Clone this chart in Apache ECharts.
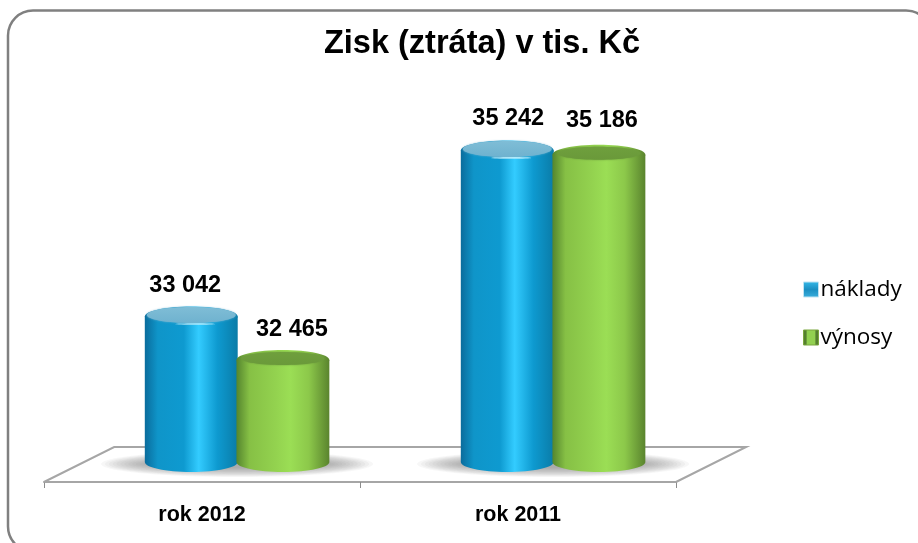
<!DOCTYPE html>
<html>
<head>
<meta charset="utf-8">
<script src="https://cdn.jsdelivr.net/npm/echarts@6/dist/echarts.min.js"></script>
<style>
html,body{margin:0;padding:0;background:#fff}
#chart{width:918px;height:543px}
</style>
</head>
<body>
<div id="chart"></div>
<script>
var categories = ['rok 2012', 'rok 2011']
var naklady = [33042, 35242]
var vynosy = [32465, 35186]

// hand placed labels in the original, shift from the top of the cylinder
var nakladyLabelShift = [[-6, -31], [1, -32]]
var vynosyLabelShift = [[9, -31], [3, -34]]

var blueBody = ['#0a6c9c', '#0f95c9', '#0e9ad0', '#33ccff', '#0e9ad0', '#0a7ca8']
var blueTop = ['#6fb2cf', '#7fbdd6']
var greenBody = ['#55852e', '#86c045', '#93d24f', '#9bde55', '#8cc84a', '#5a842e']
var greenTop = ['#6a993a', '#6f9f3d']

var chart = echarts.init(document.getElementById('chart'))

function fmt(v){
  return String(v).replace(/\B(?=(\d{3})+$)/g, ' ')
}

function hGrad(colors){
  var stops = [0, 0.14, 0.42, 0.58, 0.78, 1]
  return new echarts.graphic.LinearGradient(0, 0, 1, 0, colors.map(function(c, i){
    return {offset: stops[i], color: c}
  }))
}

// cylinder, sitting on the floor of the fake 3d chart
function cylinder(side, bodyColors, topColors, topInset, shine, shifts){
  return function(params, api){
    var band = api.size([1, 0])[0]
    var p = api.coord([api.value(0), api.value(1)])
    var cs = params.coordSys
    var w = band * 0.294
    var rx = w / 2
    var ry = 10
    var cx = p[0] + band * 0.111 + side * band * 0.145
    var base = cs.y + cs.height - 20
    var top = p[1]
    var shift = shifts[params.dataIndex]
    var k = 0.5522
    var d = 'M' + (cx - rx) + ' ' + top + 'L' + (cx - rx) + ' ' + base +
      'C' + (cx - rx) + ' ' + (base + ry * k) + ' ' + (cx - rx * k) + ' ' + (base + ry) + ' ' + cx + ' ' + (base + ry) +
      'C' + (cx + rx * k) + ' ' + (base + ry) + ' ' + (cx + rx) + ' ' + (base + ry * k) + ' ' + (cx + rx) + ' ' + base +
      'L' + (cx + rx) + ' ' + top + 'Z'
    var kids = [
      {type: 'path', shape: {pathData: d}, style: {fill: hGrad(bodyColors)}},
      {type: 'ellipse', shape: {cx: cx, cy: top, rx: rx, ry: ry}, style: {fill: hGrad(bodyColors)}},
      {type: 'ellipse', shape: {cx: cx, cy: top - 1.5, rx: rx - topInset, ry: ry - 1 - topInset / 2},
        style: {
          fill: new echarts.graphic.LinearGradient(0, 0, 0, 1, [
            {offset: 0, color: topColors[1]}, {offset: 1, color: topColors[0]}
          ]),
          shadowBlur: 2, shadowColor: topColors[0]
        }}
    ]
    if(shine){
      kids.push({type: 'ellipse', shape: {cx: cx + 4, cy: top + 7.5, rx: 20, ry: 0.8},
        style: {fill: 'rgba(225,250,255,0.7)'}})
    }
    kids.push({type: 'text', style: {
      x: cx + shift[0], y: top + shift[1], text: fmt(api.value(1)),
      font: 'bold 23.5px "Liberation Sans"', fill: '#000', align: 'center', verticalAlign: 'middle'
    }})
    return {type: 'group', children: kids}
  }
}

// floor parallelogram + soft shadows under each pair of bars
function floor(params, api){
  var cs = params.coordSys
  var band = api.size([1, 0])[0]
  var dx = band * 0.222
  var dy = 35
  var bottom = cs.y + cs.height
  var kids = [{
    type: 'polyline',
    shape: {points: [[cs.x, bottom], [cs.x + dx, bottom - dy], [cs.x + cs.width + dx, bottom - dy], [cs.x + cs.width, bottom]]},
    style: {fill: null, stroke: '#a6a6a6', lineWidth: 2}
  }]
  // stacked see through ellipses, radial gradient stays round so it cant do this
  var layers = 14
  for(var i = 0; i < categories.length; i++){
    var c = api.coord([i, 0])[0] + dx / 2
    for(var j = 0; j < layers; j++){
      var t = 1 - j / layers
      kids.push({
        type: 'ellipse',
        shape: {cx: c, cy: bottom - 18, rx: band * (0.26 + 0.17 * t), ry: 3 + 10 * t},
        style: {fill: 'rgba(110,110,110,0.055)'}
      })
    }
  }
  return {type: 'group', children: kids}
}

var option = {
  backgroundColor: '#fff',
  animation: false,
  title: {
    text: 'Zisk (ztráta) v tis. Kč',
    left: 477,
    top: 23,
    textAlign: 'center',
    textStyle: {fontFamily: 'Liberation Sans', fontWeight: 'bold', fontSize: 32.5, color: '#000'}
  },
  grid: {left: 44, right: 242, top: 104.5, bottom: 61},
  legend: {
    orient: 'vertical',
    left: 798,
    top: 273,
    itemGap: 25,
    itemWidth: 15,
    itemHeight: 15,
    selectedMode: false,
    textStyle: {fontFamily: 'Open Sans', fontSize: 22.5, color: '#000', padding: [0, 0, 0, -3]},
    data: [
      {name: 'náklady', icon: 'rect', itemStyle: {
        color: new echarts.graphic.LinearGradient(0, 0, 0, 1, [
          {offset: 0, color: '#35b8e8'}, {offset: 0.5, color: '#1b8fc2'}, {offset: 1, color: '#3aaedc'}
        ]), borderColor: '#bfe3f2', borderWidth: 1}},
      {name: 'výnosy', icon: 'rect', itemStyle: {
        color: new echarts.graphic.LinearGradient(0, 0, 1, 0, [
          {offset: 0, color: '#55802e'}, {offset: 0.2, color: '#55802e'}, {offset: 0.25, color: '#92d050'},
          {offset: 0.75, color: '#92d050'}, {offset: 0.8, color: '#55802e'}, {offset: 1, color: '#55802e'}
        ]), borderColor: '#7aa63e', borderWidth: 1}}
    ]
  },
  xAxis: {
    type: 'category',
    data: categories,
    axisLine: {lineStyle: {color: '#a6a6a6', width: 2}},
    axisTick: {show: true, length: 6, lineStyle: {color: '#8c8c8c', width: 1}},
    axisLabel: {margin: 22, fontFamily: 'Liberation Sans', fontWeight: 'bold', fontSize: 21.5, color: '#000'}
  },
  yAxis: {type: 'value', min: 30850, max: 35850, show: false, splitLine: {show: false}},
  series: [
    {type: 'custom', silent: true, z: 1, renderItem: floor, data: [[0, 30850]], encode: {x: 0, y: 1}},
    {name: 'náklady', type: 'custom', z: 2, renderItem: cylinder(-1, blueBody, blueTop, 2, true, nakladyLabelShift),
      encode: {x: 0, y: 1}, data: naklady.map(function(v, i){ return [i, v] })},
    {name: 'výnosy', type: 'custom', z: 3, renderItem: cylinder(1, greenBody, greenTop, 5, false, vynosyLabelShift),
      encode: {x: 0, y: 1}, data: vynosy.map(function(v, i){ return [i, v] })}
  ],
  graphic: [{
    type: 'rect', z: 100, silent: true,
    shape: {x: 8, y: 10.5, width: 923, height: 541, r: 25},
    style: {fill: null, stroke: '#808080', lineWidth: 2.5}
  }]
}
chart.setOption(option)
</script>
</body>
</html>
